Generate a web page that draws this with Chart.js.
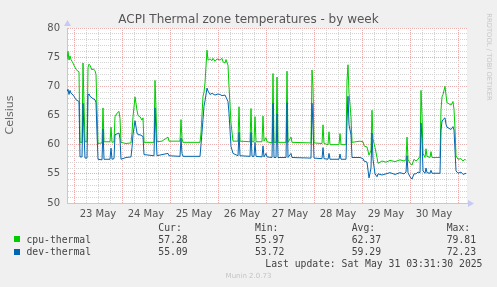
<!DOCTYPE html>
<html><head><meta charset="utf-8">
<script src="https://cdn.jsdelivr.net/npm/chart.js@4"></script>
<style>
html,body{margin:0;padding:0;background:#f0f0f0;}
#wrap{position:relative;width:497px;height:287px;overflow:hidden;background:#f0f0f0;}
canvas{position:absolute;left:0;top:0;}
.t{position:absolute;white-space:pre;line-height:1;}
.m{font-family:"DejaVu Sans Mono",monospace;font-size:9.75px;color:#444;}
.sq{position:absolute;width:6px;height:6px;}
</style></head>
<body><div id="wrap">
<canvas id="c" width="497" height="287"></canvas>
<div class="t" style="left:0;width:497px;text-align:center;top:13px;font-family:'DejaVu Sans';font-size:12px;color:#555;">ACPI Thermal zone temperatures - by week</div>
<div class="t" style="left:-10px;top:109px;width:40px;height:12px;line-height:12px;text-align:center;transform:rotate(-90deg);font-family:'DejaVu Sans';font-size:11px;color:#666;">Celsius</div>
<div class="t" style="left:444px;top:53px;width:90px;height:8px;line-height:8px;text-align:center;transform:rotate(90deg);font-family:'DejaVu Sans';font-size:6.8px;color:#c8c8c8;">RRDTOOL / TOBI OETIKER</div>
<div id="legend"></div>
<div class="t" style="left:0;width:497px;text-align:center;top:273px;font-family:'DejaVu Sans';font-size:7px;color:#c4c4c4;">Munin 2.0.73</div>
</div>
<script>
// ---- data (hours relative to 23 May 00:00) ----
const dayLabels = ['23 May','24 May','25 May','26 May','27 May','28 May','29 May','30 May'];
const yTickLabels = [50,55,60,65,70,75,80];
const seriesNames = ['cpu-thermal','dev-thermal'];
const seriesColors = ['#00cc00','#0066b3'];
const statHeaders = ['Cur:','Min:','Avg:','Max:'];
const cpuStats = ['57.28','55.97','62.37','79.81'];
const devStats = ['55.09','53.72','59.29','72.23'];
const lastUpdate = 'Last update: Sat May 31 03:31:30 2025';

const cpuHours = [-3.5,-3,-2.5,-2,-1.5,-1,-0.5,0,1,2,2.5,3,4,4.5,5,5.5,6.5,7,7.5,8,9,9.5,10.5,11,11.5,12,14,14.5,15,18,18.5,19,20,20.5,21.5,22.5,23,23.5,26,28.5,29,29.5,30.5,31.5,32,33,34,34.5,35,40,40.5,41,41.5,44,47,47.5,53,53.5,54,54.5,63,63.5,64.5,65,65.5,66,66.5,67,68,69,69.5,70.5,71.5,73,74,74.5,75.5,76,77,77.5,78.5,79.5,82,82.5,83,88,88.5,89,90,90.5,91,94,94.5,95,96,96.5,99,99.5,100,101,101.5,102,106,106.5,107,108.5,109,118.5,119,119.5,120,124,124.5,125,127,127.5,128,132.5,133,133.5,136,136.5,137,137.5,138.5,139,143,144.5,145,146.5,147.5,148.5,149,149.5,150.5,151.5,152,154,156,158,160.5,163,165,166,166.5,167,168,169,170,171,172,173,173.5,174,174.5,175.5,176,176.5,178,178.5,179,183,183.5,184,184.5,185.5,186,186.5,187.5,188.5,189.5,190,190.5,191,192,193.5,194.5,195.5,196];
const cpuTemps = [74.6,76.0,74.5,75.2,74.6,74.3,74.0,73.6,72.9,72.6,72.5,60.4,60.4,74.0,67.0,60.5,60.5,73.2,73.8,73.6,72.8,73.0,72.7,72.0,66.0,60.2,60.3,66.3,60.5,60.5,63.0,60.4,60.5,64.8,65.4,65.7,64.5,60.4,60.2,60.3,62.0,64.8,68.2,65.9,65.0,64.8,64.2,64.6,60.4,60.4,71.0,66.0,60.5,60.6,61.3,60.6,60.6,64.3,61.0,60.4,60.4,62.0,68.3,69.0,70.6,73.5,76.2,74.5,74.7,74.4,74.8,74.3,74.7,74.5,74.8,74.2,74.0,74.6,73.6,70.0,63.7,60.6,60.6,66.5,60.6,60.5,66.2,60.5,60.5,64.8,60.5,60.5,64.9,60.6,61.2,60.5,60.3,72.2,60.4,60.4,71.6,60.4,60.4,72.6,60.4,61.3,60.4,60.3,72.8,70.0,60.3,60.2,63.4,60.2,60.0,62.2,60.0,60.0,61.9,60.0,60.0,71.0,73.7,68.8,64.8,60.4,60.6,60.5,59.8,59.6,58.2,59.0,65.9,61.0,59.5,57.8,56.8,57.2,57.0,57.3,57.1,57.4,57.2,57.4,61.3,57.5,56.8,56.5,57.5,57.2,57.5,58.0,69.3,65.0,58.5,57.8,59.3,58.0,57.8,58.8,57.8,57.8,66.0,68.2,68.6,70.0,68.5,67.2,67.0,66.8,67.4,66.0,62.8,58.1,57.5,57.6,57.2,57.5,57.3];

const devHours = [-3.5,-3,-2.5,-2,-1.5,-1,0,1,2,2.5,3,4,4.5,5,5.5,6.5,7,7.5,8,9,10.5,11,11.5,12,14,14.5,15,18,18.5,19,20,20.5,22.5,23,23.5,26,28.5,29,29.5,30.5,31.5,32,33,34.5,35,40,40.5,41,41.5,44,47,47.5,53,53.5,54,54.5,63,63.5,64.5,65,65.5,66.5,67,68,69,70.5,72,73,74,75.5,77,77.5,78.5,79.5,82,82.5,83,88,88.5,89,90,90.5,91,94,94.5,95,96,96.5,99,99.5,100,101,101.5,102,106,106.5,107,108.5,109,118.5,119,119.5,120,124,124.5,125,127,127.5,128,132.5,133,133.5,136,136.5,137,137.5,138.5,139,143,144.5,145,146.5,147.5,148.5,149,149.5,150.5,151.5,152,154,156,158,160.5,163,165,166,166.5,167,168,169,170,171,172,173,173.5,174,174.5,175.5,176,176.5,178,178.5,179,183,183.5,184,184.5,185.5,186,186.5,187.5,188.5,189.5,190,190.5,191,192,193.5,194.5,196];
const devTemps = [69.1,69.5,68.6,69.3,68.8,68.7,68.3,67.7,67.5,67.4,57.9,57.9,67.1,62.0,57.7,57.7,68.5,68.7,68.3,68.0,67.7,67.2,62.0,57.5,57.4,62.7,57.5,57.5,59.4,57.5,57.6,61.7,62.0,61.0,57.5,57.8,57.9,59.5,61.7,64.1,62.0,61.7,61.7,61.4,58.3,58.1,66.3,62.0,58.1,58.3,58.5,58.1,58.0,61.1,58.5,58.0,58.0,60.0,64.3,66.6,67.5,69.7,69.2,68.6,68.8,68.5,68.7,68.6,68.4,68.5,67.4,65.4,59.7,58.5,58.1,62.1,58.1,58.0,62.1,58.0,58.0,60.4,58.0,57.9,59.8,57.9,58.5,57.9,57.8,67.1,57.8,57.8,65.3,57.8,57.8,67.2,57.8,58.5,57.8,57.7,67.1,63.0,57.7,57.6,59.5,57.6,57.5,58.5,57.5,57.5,58.4,57.5,57.5,64.0,68.3,63.4,61.7,57.8,57.8,57.6,57.2,57.0,54.3,56.0,62.0,57.5,55.0,54.5,55.0,54.8,55.0,55.2,54.9,55.2,55.0,55.3,58.1,55.2,54.5,54.1,55.0,55.0,55.3,55.2,63.7,61.0,55.5,55.1,56.0,55.2,55.1,55.6,55.1,55.1,62.5,64.0,64.3,64.6,63.5,63.0,62.8,62.6,63.1,62.5,59.0,55.5,55.1,55.3,54.9,55.1];

// ---- legend (HTML text) ----
(function(){
  const L = document.getElementById('legend');
  const colX = [158.3,255,351.7,446.7];
  function add(txt,left,top){const d=document.createElement('div');d.className='t m';d.style.left=left+'px';d.style.top=top+'px';d.textContent=txt;L.appendChild(d);}
  statHeaders.forEach((h,i)=>add(h,colX[i],223.3));
  const rows=[[cpuStats,235.1],[devStats,247.3]];
  rows.forEach(([st,top],r)=>{
    const s=document.createElement('div');s.className='sq';s.style.left='14px';s.style.top=(top+1.3)+'px';s.style.background=seriesColors[r];L.appendChild(s);
    add(seriesNames[r],26.5,top);
    st.forEach((v,i)=>add(v,colX[i],top));
  });
  const lu=document.createElement('div');lu.className='t m';lu.style.right=(497-482.5)+'px';lu.style.top='259.3px';lu.textContent=lastUpdate;L.appendChild(lu);
})();

const axisArrows = {
  id:'axisArrows',
  afterDraw(ch){
    const {ctx, chartArea:a} = ch;
    ctx.save();
    ctx.fillStyle='#c8c8f4';
    ctx.beginPath();ctx.moveTo(a.left-3,a.top-2);ctx.lineTo(a.left+4,a.top-2);ctx.lineTo(a.left+0.5,a.top-8);ctx.closePath();ctx.fill();
    ctx.beginPath();ctx.moveTo(a.right+1,a.bottom-3);ctx.lineTo(a.right+1,a.bottom+4);ctx.lineTo(a.right+7,a.bottom+0.5);ctx.closePath();ctx.fill();
    ctx.restore();
  }
};

new Chart(document.getElementById('c'), {
  type:'line',
  data:{datasets:[
    {label:seriesNames[0], data:cpuHours.map((h,i)=>({x:h,y:cpuTemps[i]})), borderColor:seriesColors[0], borderWidth:1, pointRadius:0, tension:0, fill:false, order:1},
    {label:seriesNames[1], data:devHours.map((h,i)=>({x:h,y:devTemps[i]})), borderColor:seriesColors[1], borderWidth:1, pointRadius:0, tension:0, fill:false, order:0}
  ]},
  plugins:[axisArrows,{id:'bg',beforeDraw(ch){const {ctx,chartArea:a}=ch;ctx.save();ctx.fillStyle='#ffffff';ctx.fillRect(a.left,a.top,a.right-a.left,a.bottom-a.top);ctx.restore();}}],
  options:{
    responsive:false, animation:false, devicePixelRatio:1,
    layout:{padding:{top:28,right:30,left:0,bottom:0}},
    plugins:{legend:{display:false},title:{display:false},tooltip:{enabled:false}},
    scales:{
      x:{type:'linear',min:-3.5,max:196.5,
        afterBuildTicks:s=>{const t=[];for(let h=0;h<=dayLabels.length*24;h+=6)t.push({value:h});s.ticks=t;},
        afterFit:s=>{s.height=84;},
        grid:{color:c=>(c.tick&&c.tick.value%24===0)?'#eab0b0':'#d4d4d4',lineWidth:1,drawTicks:false},
        border:{display:true,color:'#c4c4ee',width:1,dash:[1,1]},
        ticks:{autoSkip:false,maxRotation:0,padding:5,color:'#555',font:{family:'DejaVu Sans',size:10},
          callback:v=>(v%24===12)?dayLabels[(v-12)/24]:''}
      },
      y:{min:50,max:80,
        afterBuildTicks:s=>{const t=[];for(let v=yTickLabels[0];v<=yTickLabels[yTickLabels.length-1];v+=1)t.push({value:v});s.ticks=t;},
        afterFit:s=>{s.width=67;},
        grid:{color:c=>(c.tick&&yTickLabels.includes(c.tick.value))?'#eab0b0':'#d4d4d4',lineWidth:1,drawTicks:false},
        border:{display:true,color:'#c4c4ee',width:1,dash:[1,1]},
        ticks:{autoSkip:false,padding:7,color:'#555',font:{family:'DejaVu Sans',size:10},
          callback:v=>yTickLabels.includes(v)?String(v):''}
      }
    }
  }
});
</script>
</body></html>
